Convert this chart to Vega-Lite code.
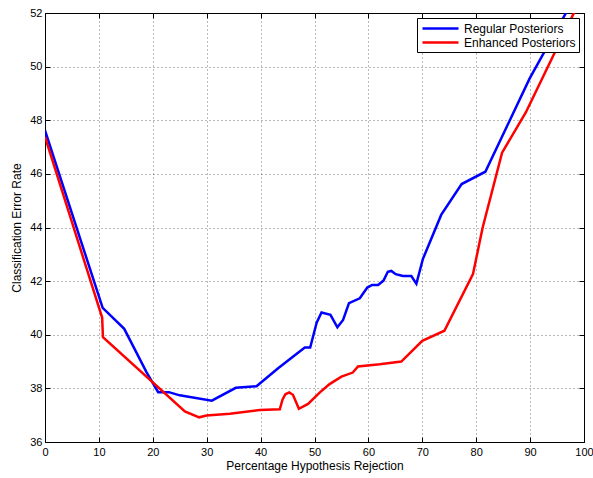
{
  "$schema": "https://vega.github.io/schema/vega-lite/v6.json",
  "width": 539,
  "height": 429,
  "autosize": {"type": "none"},
  "padding": {"left": 45, "top": 13, "right": 9, "bottom": 36},
  "background": "white",
  "config": {
    "view": {"stroke": "black", "strokeWidth": 1},
    "font": "Liberation Sans",
    "axis": {
      "labelFont": "Liberation Sans",
      "titleFont": "Liberation Sans",
      "labelFontSize": 11,
      "titleFontSize": 12,
      "titleFontWeight": "normal",
      "labelColor": "black",
      "titleColor": "black",
      "domain": false,
      "tickColor": "black",
      "tickSize": -5,
      "gridColor": "#000000",
      "gridDash": [1, 3],
      "gridWidth": 1,
      "gridOpacity": 0.55
    }
  },
  "data": {
    "values": [
      {"series": "Regular Posteriors", "x": 0, "y": 47.62},
      {"series": "Regular Posteriors", "x": 10.7, "y": 41.0},
      {"series": "Regular Posteriors", "x": 14.7, "y": 40.22},
      {"series": "Regular Posteriors", "x": 18.85, "y": 38.6},
      {"series": "Regular Posteriors", "x": 21.0, "y": 37.86},
      {"series": "Regular Posteriors", "x": 22.98, "y": 37.86},
      {"series": "Regular Posteriors", "x": 25.0, "y": 37.74},
      {"series": "Regular Posteriors", "x": 30.95, "y": 37.54},
      {"series": "Regular Posteriors", "x": 35.4, "y": 38.02},
      {"series": "Regular Posteriors", "x": 39.24, "y": 38.08},
      {"series": "Regular Posteriors", "x": 43.25, "y": 38.75},
      {"series": "Regular Posteriors", "x": 48.2, "y": 39.52},
      {"series": "Regular Posteriors", "x": 49.2, "y": 39.52},
      {"series": "Regular Posteriors", "x": 50.4, "y": 40.45},
      {"series": "Regular Posteriors", "x": 51.3, "y": 40.83},
      {"series": "Regular Posteriors", "x": 52.96, "y": 40.74},
      {"series": "Regular Posteriors", "x": 54.25, "y": 40.28},
      {"series": "Regular Posteriors", "x": 55.3, "y": 40.55},
      {"series": "Regular Posteriors", "x": 56.4, "y": 41.18},
      {"series": "Regular Posteriors", "x": 58.4, "y": 41.36},
      {"series": "Regular Posteriors", "x": 59.8, "y": 41.76},
      {"series": "Regular Posteriors", "x": 60.7, "y": 41.86},
      {"series": "Regular Posteriors", "x": 61.8, "y": 41.86},
      {"series": "Regular Posteriors", "x": 62.8, "y": 42.02},
      {"series": "Regular Posteriors", "x": 63.6, "y": 42.35},
      {"series": "Regular Posteriors", "x": 64.26, "y": 42.38},
      {"series": "Regular Posteriors", "x": 65.06, "y": 42.26},
      {"series": "Regular Posteriors", "x": 66.4, "y": 42.19},
      {"series": "Regular Posteriors", "x": 67.97, "y": 42.19},
      {"series": "Regular Posteriors", "x": 68.9, "y": 41.9},
      {"series": "Regular Posteriors", "x": 70.1, "y": 42.82},
      {"series": "Regular Posteriors", "x": 73.5, "y": 44.47},
      {"series": "Regular Posteriors", "x": 77.3, "y": 45.62},
      {"series": "Regular Posteriors", "x": 81.7, "y": 46.08},
      {"series": "Regular Posteriors", "x": 89.9, "y": 49.55},
      {"series": "Regular Posteriors", "x": 97.2, "y": 52.2},
      {"series": "Enhanced Posteriors", "x": 0, "y": 47.38},
      {"series": "Enhanced Posteriors", "x": 10.6, "y": 40.64},
      {"series": "Enhanced Posteriors", "x": 10.75, "y": 39.91},
      {"series": "Enhanced Posteriors", "x": 25.95, "y": 37.14},
      {"series": "Enhanced Posteriors", "x": 28.6, "y": 36.92},
      {"series": "Enhanced Posteriors", "x": 29.97, "y": 36.99},
      {"series": "Enhanced Posteriors", "x": 34.3, "y": 37.05},
      {"series": "Enhanced Posteriors", "x": 39.85, "y": 37.19},
      {"series": "Enhanced Posteriors", "x": 43.56, "y": 37.22},
      {"series": "Enhanced Posteriors", "x": 44.06, "y": 37.58},
      {"series": "Enhanced Posteriors", "x": 44.6, "y": 37.78},
      {"series": "Enhanced Posteriors", "x": 45.3, "y": 37.85},
      {"series": "Enhanced Posteriors", "x": 46.0, "y": 37.76},
      {"series": "Enhanced Posteriors", "x": 47.1, "y": 37.24},
      {"series": "Enhanced Posteriors", "x": 48.8, "y": 37.42},
      {"series": "Enhanced Posteriors", "x": 51.0, "y": 37.85},
      {"series": "Enhanced Posteriors", "x": 52.8, "y": 38.16},
      {"series": "Enhanced Posteriors", "x": 55.0, "y": 38.44},
      {"series": "Enhanced Posteriors", "x": 57.1, "y": 38.59},
      {"series": "Enhanced Posteriors", "x": 58.07, "y": 38.82},
      {"series": "Enhanced Posteriors", "x": 62.1, "y": 38.9},
      {"series": "Enhanced Posteriors", "x": 66.1, "y": 39.0},
      {"series": "Enhanced Posteriors", "x": 70.0, "y": 39.77},
      {"series": "Enhanced Posteriors", "x": 74.1, "y": 40.15},
      {"series": "Enhanced Posteriors", "x": 79.4, "y": 42.26},
      {"series": "Enhanced Posteriors", "x": 81.2, "y": 44.0},
      {"series": "Enhanced Posteriors", "x": 84.8, "y": 46.79},
      {"series": "Enhanced Posteriors", "x": 89.2, "y": 48.29},
      {"series": "Enhanced Posteriors", "x": 98.6, "y": 52.2}
    ]
  },
  "resolve": {"axis": {"x": "independent", "y": "independent"}},
  "layer": [
    {
      "mark": {"type": "line", "strokeWidth": 2.5, "clip": true},
      "encoding": {
        "x": {
          "field": "x", "type": "quantitative",
          "scale": {"domain": [0, 100], "nice": false, "zero": false},
          "axis": {"title": "Percentage Hypothesis Rejection", "values": [0,10,20,30,40,50,60,70,80,90,100], "labelPadding": 9, "titlePadding": 3, "grid": true, "labelFlush": false}
        },
        "y": {
          "field": "y", "type": "quantitative",
          "scale": {"domain": [36, 52], "nice": false, "zero": false},
          "axis": {"title": "Classification Error Rate", "values": [36,38,40,42,44,46,48,50,52], "labelPadding": 8, "titlePadding": 6, "grid": true, "labelFlush": false}
        },
        "color": {
          "field": "series", "type": "nominal",
          "scale": {"domain": ["Regular Posteriors", "Enhanced Posteriors"], "range": ["#0000ff", "#ff0000"]},
          "legend": {
            "title": null,
            "orient": "top-right",
            "offset": 5,
            "strokeColor": "black",
            "fillColor": "white",
            "padding": 3,
            "symbolType": "M-3,0H3",
            "symbolSize": 144,
            "symbolStrokeWidth": 2.5,
            "symbolOffset": 13,
            "labelFont": "Liberation Sans",
            "labelFontSize": 12,
            "labelColor": "black",
            "labelOffset": 16,
            "rowPadding": 0,
            "labelLimit": 200
          }
        },
        "order": {"field": "x", "type": "quantitative"}
      }
    },
    {
      "mark": {"type": "line", "opacity": 0, "clip": true},
      "encoding": {
        "x": {
          "field": "x", "type": "quantitative",
          "axis": {"orient": "top", "title": null, "labels": false, "values": [0,10,20,30,40,50,60,70,80,90,100], "grid": false}
        },
        "y": {
          "field": "y", "type": "quantitative",
          "axis": {"orient": "right", "title": null, "labels": false, "values": [36,38,40,42,44,46,48,50,52], "grid": false}
        },
        "detail": {"field": "series"}
      }
    }
  ]
}
